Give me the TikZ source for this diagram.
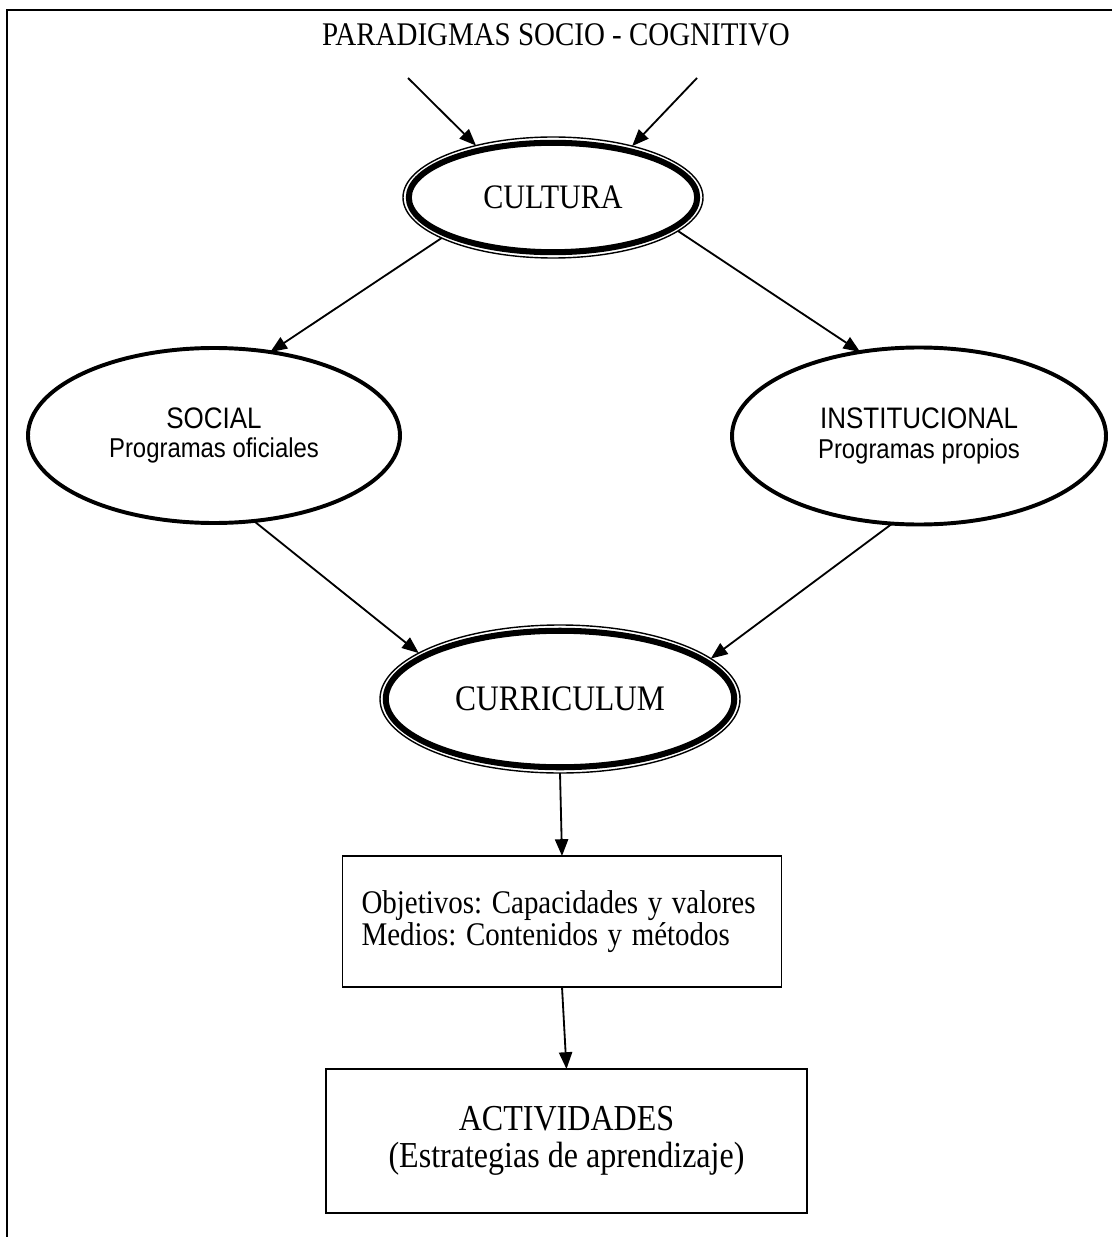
\documentclass[tikz,border=0pt]{standalone}
\usepackage{fontspec}
\usepackage{graphicx}
\setmainfont{Liberation Serif}
\newfontfamily\arialfont{Liberation Sans}
\usetikzlibrary{shapes.geometric,arrows.meta}
\frenchspacing
\newcommand{\vstretch}[1]{\scalebox{1}[1.14]{#1}}

\begin{document}
\begin{tikzpicture}[
    arr/.style={-{Triangle[length=0.42cm,width=0.33cm]}, line width=1.3pt},
    dblell/.style={ellipse, draw, line width=1pt, inner sep=0pt, outer sep=0pt},
    thickell/.style={ellipse, draw, line width=2.8pt, inner sep=0pt, outer sep=0pt,
        align=center, font=\arialfont\fontsize{17}{21.3}\selectfont},
    box/.style={rectangle, draw, line width=1.1pt, outer sep=0pt}
]
    % Page and frame
    \useasboundingbox (0,0) rectangle (27.8,-30.925);
    \draw[line width=1.1pt] (27.8,-0.25) -- (0.17,-0.25) -- (0.17,-30.925);

    % Title
    \node[font=\fontsize{20.6}{24}\selectfont] (title) at (13.9,-0.875) {\vstretch{PARADIGMAS SOCIO - COGNITIVO}};

    % Double ellipses
    \node[dblell, minimum width=7.5cm, minimum height=3.025cm,
        font=\fontsize{21.4}{24}\selectfont] (cultura) at (13.825,-4.9375) {\vstretch{CULTURA}};
    \draw[line width=4.3pt] (cultura.center) ellipse [x radius=3.605cm, y radius=1.3675cm];

    \node[dblell, minimum width=9cm, minimum height=3.7cm,
        font=\fontsize{22.4}{26}\selectfont] (curriculum) at (14,-17.475) {\vstretch{CURRICULUM}};
    \draw[line width=4.3pt] (curriculum.center) ellipse [x radius=4.356cm, y radius=1.706cm];

    % Thick ellipses
    \node[thickell, minimum width=9.3cm, minimum height=4.375cm] (social) at (5.35,-10.8875)
        {\vstretch{\fontsize{18.5}{21.3}\selectfont SOCIAL}\\\vstretch{Programas oficiales}};
    \node[thickell, minimum width=9.35cm, minimum height=4.425cm] (institucional) at (22.975,-10.9)
        {\vstretch{\fontsize{18.5}{21.3}\selectfont INSTITUCIONAL}\\\vstretch{Programas propios}};

    % Boxes
    \node[box, text width=10.025cm, inner xsep=0.475cm, minimum height=3.275cm, align=left,
        font=\fontsize{20.6}{22.5}\selectfont] (objetivos) at (14.05,-23.0375)
        {\vstretch{Objetivos: Capacidades y valores}\\\vstretch{Medios: Contenidos y métodos}};
    \node[box, minimum width=12.025cm, minimum height=3.6cm, align=center,
        font=\fontsize{22.8}{26.3}\selectfont] (actividades) at (14.1625,-28.525)
        {\vstretch{ACTIVIDADES}\\\vstretch{(Estrategias de aprendizaje)}};

    % Arrows
    \coordinate (pl) at (10.2,-1.95);
    \coordinate (pr) at (17.425,-1.95);
    \draw[arr] (pl) -- (cultura.146.9);
    \draw[arr] (pr) -- (cultura.33.8);
    \draw[arr] (cultura.200.6) -- (social.56.5);
    \draw[arr] (cultura.-15) -- (institucional.125.5);
    \draw[arr] (social.-65) -- (curriculum.162);
    \draw[arr] (institucional.-107.7) -- (curriculum.15);
    \draw[arr] (curriculum.south) -- (objetivos.north);
    \draw[arr] (objetivos.south) -- (actividades.north);
\end{tikzpicture}
\end{document}
